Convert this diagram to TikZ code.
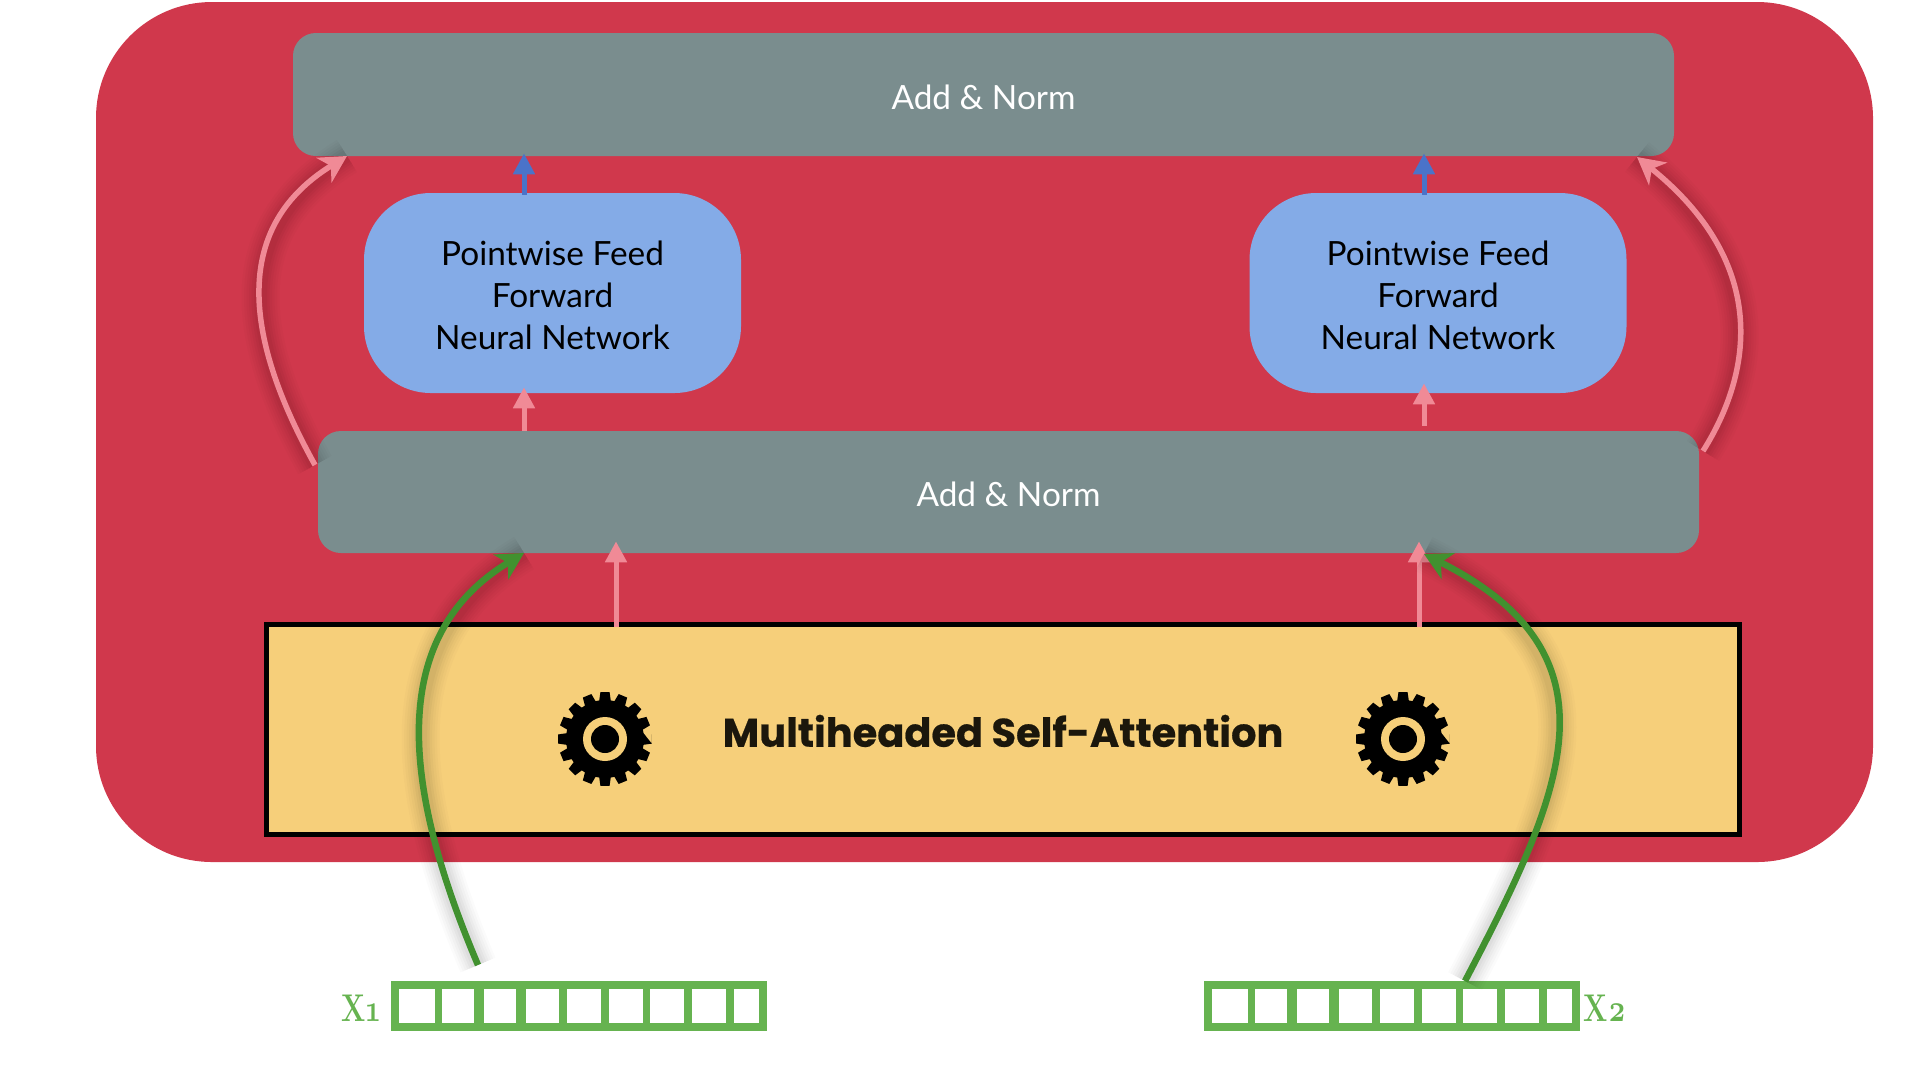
\documentclass[tikz,border=0pt]{standalone}
\usepackage{fontspec}
\usetikzlibrary{arrows.meta}
\setmainfont{Lato}
\newfontfamily\headfont[BoldFeatures={FakeBold=0.5}]{Poppins}
\newfontfamily\inputfont[Numbers=OldStyle,FakeStretch=0.74]{Latin Modern Roman}

\definecolor{outerred}{HTML}{D0384C}
\definecolor{normgrey}{HTML}{7A8D8E}
\definecolor{ffnnblue}{HTML}{84ABE7}
\definecolor{attnyellow}{HTML}{F6CF7A}
\definecolor{linkpink}{HTML}{F08A96}
\definecolor{linkblue}{HTML}{4A73C9}
\definecolor{linkgreen}{HTML}{41912F}
\definecolor{inputgreen}{HTML}{66B350}
\definecolor{headink}{HTML}{1B170C}

\newlength{\pxu}
\setlength{\pxu}{0.02cm}
\tikzset{
  normbox/.style={fill=normgrey,rounded corners=13pt,text=white,text height=16.8pt,font=\fontsize{19}{24}\selectfont},
  ffnnbox/.style={fill=ffnnblue,rounded corners=38pt,minimum width=377\pxu,minimum height=200\pxu,
    align=center,font=\fontsize{19}{23.8}\selectfont},
  softshade/.style={
    preaction={draw=black,opacity=.015,line width=38\pxu,arrows=-},
    preaction={draw=black,opacity=.02,line width=33\pxu,arrows=-},
    preaction={draw=black,opacity=.02,line width=28\pxu,arrows=-},
    preaction={draw=black,opacity=.025,line width=23\pxu,arrows=-},
    preaction={draw=black,opacity=.03,line width=18\pxu,arrows=-},
    preaction={draw=black,opacity=.03,line width=13\pxu,arrows=-}},
  straightlink/.style={line width=5\pxu,-{Triangle[width=11.9pt,length=11.9pt]}},
  curvelink/.style={softshade,-{Stealth[width=16.4pt,length=15.3pt,inset=4.5pt]}},
  inputlabel/.style={text=inputgreen,font=\inputfont\bfseries\fontsize{22}{24}\selectfont}
}

\begin{document}
\begin{tikzpicture}[x=0.02cm,y=-0.02cm]
    \useasboundingbox (0,0) rectangle (1920,1080);

    \node[fill=outerred,rounded corners=66pt,minimum width=1777\pxu,minimum height=860\pxu] (encoder) at (984.5,432) {};

    \node[normbox,minimum width=1381\pxu,minimum height=123\pxu] (normtop) at (983.5,94.5) {Add \& Norm};
    \node[normbox,minimum width=1381\pxu,minimum height=122\pxu] (normlow) at (1008.5,492) {Add \& Norm};
    \node[ffnnbox] (ffnnL) at (552.5,293) {\rule{0pt}{17pt}Pointwise Feed\\Forward\\Neural Network};
    \node[ffnnbox] (ffnnR) at (1438,293) {\rule{0pt}{17pt}Pointwise Feed\\Forward\\Neural Network};
    \node[draw=black,line width=5\pxu,fill=attnyellow,minimum width=1473\pxu,minimum height=210\pxu,
      text=headink,font=\headfont\bfseries\fontsize{22.7}{26}\selectfont] (attn) at (1003,729.5) {\rule{0pt}{19.8pt}Multiheaded Self-Attention};

    % gears
    \foreach \gx in {605,1403} {
      \begin{scope}[shift={(\gx,739)}]
        \fill[black] (5.6:47)
          \foreach \t in {0,22.5,...,337.5} {
            -- ({\t-5.6}:47) -- ({\t+5.6}:47) -- ({\t+8.5}:39) -- ({\t+14}:39)
          } -- cycle;
        \fill[attnyellow] (0,0) circle (22);
        \fill[black] (0,0) circle (14);
      \end{scope}
    }

    % input vectors
    \node[fill=inputgreen,minimum width=376\pxu,minimum height=50\pxu] (barL) at (579,1006) {};
    \node[fill=inputgreen,minimum width=376\pxu,minimum height=50\pxu] (barR) at (1391.5,1006) {};
    \foreach \bx in {391,1204}
      \foreach \a/\b in {8/44,51/83,93/125,135/168,176/210,218/252,259/293,301/335,343/368}
        \fill[white] (\bx+\a,989) rectangle (\bx+\b,1023);
    \node[inputlabel] (labelL) at (361,1008) {X1};
    \node[inputlabel] (labelR) at (1605,1008) {X2};

    % link ends
    \coordinate (colA) at (524,0);
    \coordinate (colB) at (1424,0);
    \coordinate (colC) at (616,0);
    \coordinate (colD) at (1419,0);
    \coordinate (skipLstart) at (315,465);
    \coordinate (skipLend) at (347,156);
    \coordinate (skipRstart) at (1703,451);
    \coordinate (skipRend) at (1637,157);
    \coordinate (inLstart) at (478,965);
    \coordinate (inLend) at (524,553);
    \coordinate (inRstart) at (1465,981);
    \coordinate (inRend) at (1424,554);

    % straight links
    \draw[straightlink,draw=linkblue] ([yshift=-2\pxu]colA |- ffnnL.north) -- ([yshift=3\pxu]colA |- normtop.south);
    \draw[straightlink,draw=linkblue] ([yshift=-2\pxu]colB |- ffnnR.north) -- ([yshift=3\pxu]colB |- normtop.south);
    \draw[straightlink,draw=linkpink] (colA |- normlow.north) -- ([yshift=6\pxu]colA |- ffnnL.south);
    \draw[straightlink,draw=linkpink] ([yshift=5\pxu]colB |- normlow.north) -- ([yshift=10\pxu]colB |- ffnnR.south);
    \draw[straightlink,draw=linkpink] ([yshift=-5\pxu]colC |- attn.north) -- ([yshift=12\pxu]colC |- normlow.south);
    \draw[straightlink,draw=linkpink] ([yshift=-5\pxu]colD |- attn.north) -- ([yshift=12\pxu]colD |- normlow.south);

    % curved links
    \draw[curvelink,draw=linkpink,line width=5.5\pxu] (skipLstart) .. controls (240,330) and (235,225) .. (skipLend);
    \draw[curvelink,draw=linkpink,line width=5.5\pxu] (skipRstart) .. controls (1757,365) and (1764,259) .. (skipRend);
    \draw[curvelink,draw=linkgreen,line width=6.5\pxu] (inLstart) .. controls (408,800) and (380,640) .. (inLend);
    \draw[curvelink,draw=linkgreen,line width=6.5\pxu] (inRstart) .. controls (1565,790) and (1625,655) .. (inRend);
\end{tikzpicture}
\end{document}
